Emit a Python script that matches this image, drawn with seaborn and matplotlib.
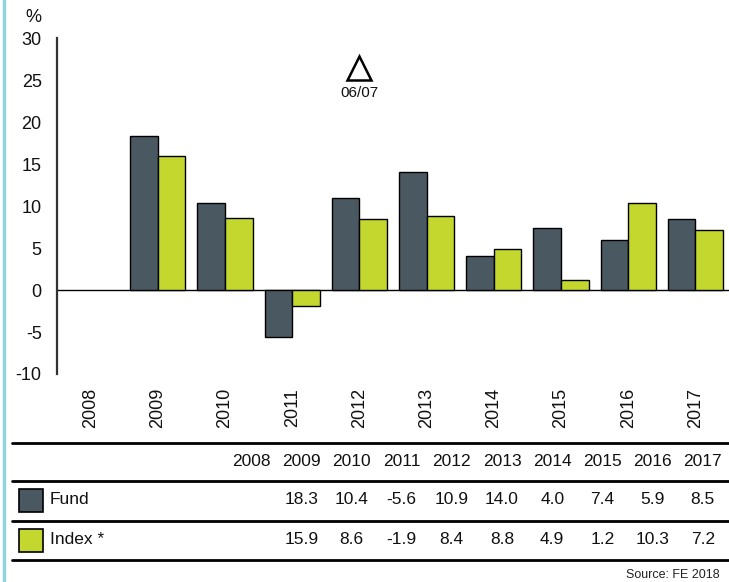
import numpy as np
import pandas as pd
import matplotlib
matplotlib.use("Agg")
import matplotlib.pyplot as plt
from matplotlib.lines import Line2D
from matplotlib.patches import Rectangle
import seaborn as sns

# Calendar-year performance (%)
years = ["2008", "2009", "2010", "2011", "2012", "2013", "2014", "2015", "2016", "2017"]
fund = [np.nan, 18.3, 10.4, -5.6, 10.9, 14.0, 4.0, 7.4, 5.9, 8.5]
index = [np.nan, 15.9, 8.6, -1.9, 8.4, 8.8, 4.9, 1.2, 10.3, 7.2]
series_names = ["Fund", "Index *"]
series_colors = ["#4a5862", "#c3d72f"]
y_ticks = [-10, -5, 0, 5, 10, 15, 20, 25, 30]
marker_year = "2012"
marker_label = "06/07"
source_text = "Source: FE 2018"

df = pd.DataFrame({
    "year": years * 2,
    "value": fund + index,
    "series": [series_names[0]] * len(years) + [series_names[1]] * len(years),
})

sns.set_theme(style="white")
plt.rcParams["font.family"] = ["Liberation Sans", "DejaVu Sans"]

W, H = 729, 582
fig = plt.figure(figsize=(W / 100, H / 100), dpi=100)

# main bar chart, positioned in pixel terms
left, right, top, bottom = 57, 729, 38, 374
ax = fig.add_axes([left / W, 1 - bottom / H, (right - left) / W, (bottom - top) / H])
sns.barplot(data=df, x="year", y="value", hue="series", order=years,
            hue_order=series_names, palette=series_colors, saturation=1,
            width=0.82, edgecolor="black", linewidth=1, legend=False, ax=ax,
            zorder=3)
ax.axhline(0, color="black", lw=1, zorder=2)
ax.set_ylim(-10, 30)
ax.set_xlim(-0.5, len(years) - 0.5)
ax.set_yticks(y_ticks)
ax.set_yticklabels([str(t) for t in y_ticks], fontsize=13, color="#111111")
ax.tick_params(axis="y", length=0, pad=11)
ax.tick_params(axis="x", length=0, pad=10)
for lab in ax.get_xticklabels():
    lab.set_rotation(90)
    lab.set_fontsize(13)
    lab.set_color("#111111")
ax.set_xlabel("")
ax.set_ylabel("")
for s in ["top", "right", "bottom"]:
    ax.spines[s].set_visible(False)
ax.spines["left"].set_color("#333333")
ax.spines["left"].set_linewidth(1.6)
ax.patch.set_alpha(0)

# period marker
mx = years.index(marker_year)
ax.plot([mx], [26.4], marker="^", ms=17, mfc="white", mec="black", mew=1.8,
        ls="none", zorder=4, clip_on=False)
ax.text(mx, 23.5, marker_label, ha="center", va="center", fontsize=11, color="#111111")

# overlay axes in pixel coordinates for the table and labels
ov = fig.add_axes([0, 0, 1, 1])
ov.set_xlim(0, W)
ov.set_ylim(H, 0)
ov.axis("off")
ov.patch.set_alpha(0)

ov.text(33, 18, "%", ha="center", va="center", fontsize=13, color="#111111")
ov.add_line(Line2D([4, 4], [0, H], color="#92d3e0", lw=2.5))

for yl in [443, 481, 521, 560]:
    ov.add_line(Line2D([12, 729], [yl, yl], color="black", lw=2))

col_x0, col_dx = 251, 50.2
rows_y = [462, 500, 540]
for i, yr in enumerate(years):
    ov.text(col_x0 + i * col_dx, rows_y[0], yr, ha="center", va="center",
            fontsize=12.5, color="#111111")
for r, vals in enumerate([fund, index]):
    for i, v in enumerate(vals):
        if np.isnan(v):
            continue
        ov.text(col_x0 + i * col_dx, rows_y[r + 1], f"{v:.1f}", ha="center",
                va="center", fontsize=12.5, color="#111111")
    ov.add_patch(Rectangle((19.5, rows_y[r + 1] - 11.5), 23.5, 23,
                           facecolor=series_colors[r], edgecolor="black", lw=1.2))
    ov.text(50, rows_y[r + 1], series_names[r], ha="left", va="center",
            fontsize=12.5, color="#111111")

ov.text(720, 575, source_text, ha="right", va="center", fontsize=9, color="#222222")

fig.savefig("out.png", dpi=100)
